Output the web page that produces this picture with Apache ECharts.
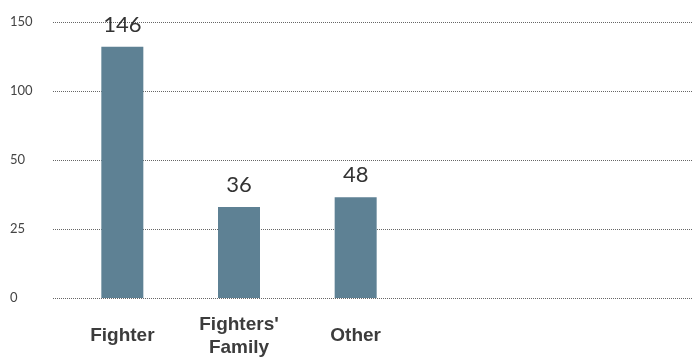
<!DOCTYPE html>
<html>
<head>
<meta charset="utf-8">
<script src="https://cdn.jsdelivr.net/npm/echarts@6/dist/echarts.min.js"></script>
<style>html,body{margin:0;padding:0;background:#fff}#c{width:692px;height:361px}</style>
</head>
<body>
<div id="c"></div>
<script>
// Categories and values
const categories = ['Fighter', "Fighters'\nFamily", 'Other'];
const labelValues = [146, 36, 48];          // numbers printed above bars
const barHeights = [132, 33, 36.5];         // bar tops as read against the drawn axis
const tickLabels = [0, 25, 50, 100, 150];   // equally spaced y tick labels

// Axis is drawn with equally spaced ticks; map a value onto tick-index space
function toAxis(v) {
  for (let i = 1; i < tickLabels.length; i++) {
    if (v <= tickLabels[i]) {
      const a = tickLabels[i - 1], b = tickLabels[i];
      return (i - 1) + (v - a) / (b - a);
    }
  }
  return tickLabels.length - 1;
}

const chart = echarts.init(document.getElementById('c'), null, {renderer: 'canvas'});
const yMax = tickLabels.length - 1;
chart.setOption({
  animation: false,
  grid: [
    {left: 53, right: 0, top: 22, bottom: 63},
    {left: 64, width: 350, top: 22, bottom: 63}
  ],
  xAxis: [
    {gridIndex: 0, type: 'category', data: categories, show: false},
    {
      gridIndex: 1, type: 'category', data: categories,
      axisLine: {show: false}, axisTick: {show: false},
      axisLabel: {
        margin: 38, verticalAlign: 'middle', lineHeight: 23,
        fontFamily: 'Liberation Sans, Arial, sans-serif', fontWeight: 'bold',
        fontSize: 19, color: '#3c3c3c'
      }
    }
  ],
  yAxis: [
    {
      gridIndex: 0, type: 'value', min: 0, max: yMax, interval: 1,
      axisLine: {show: false}, axisTick: {show: false},
      splitLine: {show: true, lineStyle: {type: 'dotted', color: '#666', width: 1}},
      axisLabel: {
        margin: 43, align: 'left',
        fontFamily: 'Lato, sans-serif', fontSize: 13, color: '#444',
        formatter: (v) => String(tickLabels[Math.round(v)])
      }
    },
    {gridIndex: 1, type: 'value', min: 0, max: yMax, show: false, splitLine: {show: false}}
  ],
  series: [{
    type: 'bar',
    xAxisIndex: 1, yAxisIndex: 1,
    data: barHeights.map(toAxis),
    barWidth: 42,
    itemStyle: {color: '#5e8194'},
    label: {
      show: true, position: 'top', distance: 11,
      fontFamily: 'Lato, sans-serif', fontSize: 22, color: '#333',
      formatter: (p) => String(labelValues[p.dataIndex])
    }
  }]
});
</script>
</body>
</html>
